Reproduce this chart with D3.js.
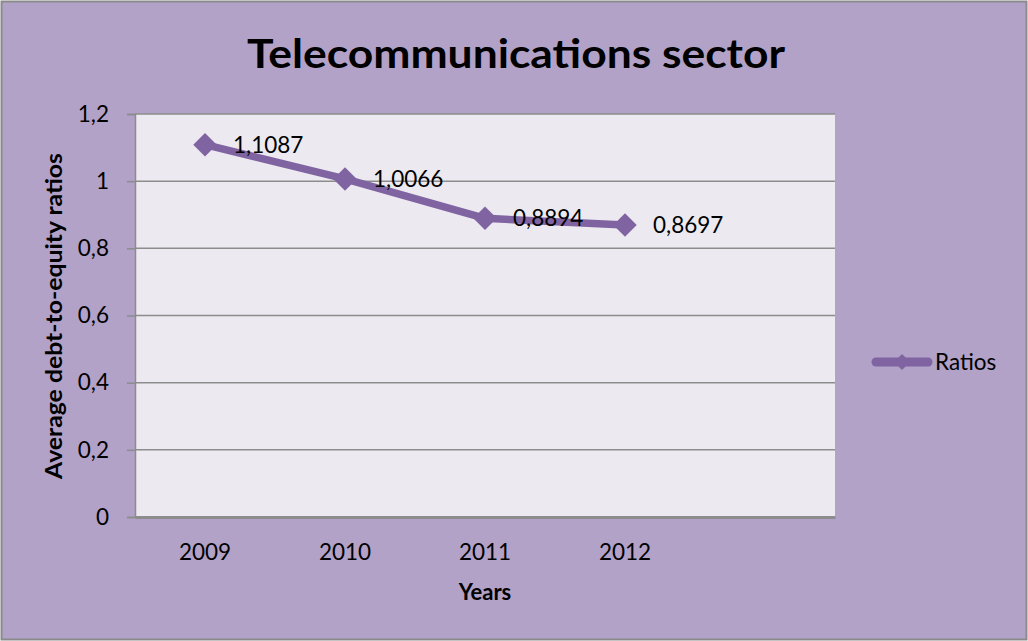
<!DOCTYPE html>
<html>
<head>
<meta charset="utf-8">
<script src="https://cdn.jsdelivr.net/npm/d3@7"></script>
<style>
  html, body { margin: 0; padding: 0; background: #fff; }
  svg { display: block; }
  text { font-family: Lato, "Open Sans", sans-serif; fill: #000; }
</style>
</head>
<body>
<svg id="chart" width="1028" height="641"></svg>
<script>
// Average debt-to-equity ratios, telecommunications sector
const years = ["2009", "2010", "2011", "2012"];
const ratios = [1.1087, 1.0066, 0.8894, 0.8697];
const ratioLabels = ["1,1087", "1,0066", "0,8894", "0,8697"];
const yTicks = [0, 0.2, 0.4, 0.6, 0.8, 1, 1.2];
const seriesName = "Ratios";

const W = 1028, H = 641;
const plot = { left: 135, right: 835, top: 114, bottom: 517 };
const lineColor = "#8064a2";
const fontSize = 22.5;

const svg = d3.select("#chart");

// outer chart area with border
svg.append("rect")
  .attr("x", 1.5).attr("y", 1.5)
  .attr("width", W - 3).attr("height", H - 3)
  .attr("fill", "#b2a2c8")
  .attr("stroke", "#8a8a8a").attr("stroke-width", 2);

// category slots: the axis reserves one empty slot after the last year
const slots = years.concat([""]);
const x = d3.scaleBand().domain(slots.map((d, i) => i)).range([plot.left, plot.right]);
const y = d3.scaleLinear().domain([0, 1.2]).range([plot.bottom, plot.top]);

// plot area
svg.append("rect")
  .attr("x", plot.left).attr("y", plot.top)
  .attr("width", plot.right - plot.left).attr("height", plot.bottom - plot.top)
  .attr("fill", "#eceaf0");

// y axis with gridlines
const yAxis = svg.append("g")
  .attr("transform", `translate(${plot.left},0)`)
  .call(d3.axisLeft(y).tickValues(yTicks).tickSize(8).tickPadding(18)
    .tickFormat(d => d3.format("~g")(d).replace(".", ",")));
yAxis.select(".domain").attr("stroke", "#8c8c8c").attr("stroke-width", 1.5);
yAxis.selectAll(".tick line").attr("stroke", "#8c8c8c").attr("stroke-width", 1.5);
yAxis.selectAll(".tick text").attr("font-size", fontSize).attr("font-family", "Lato, sans-serif").attr("fill", "#000");

svg.append("g")
  .selectAll("line")
  .data(yTicks.filter(d => d > 0))
  .join("line")
  .attr("x1", plot.left).attr("x2", plot.right)
  .attr("y1", d => y(d)).attr("y2", d => y(d))
  .attr("stroke", "#8c8c8c").attr("stroke-width", 1.5);

// x axis
const xAxis = svg.append("g")
  .attr("transform", `translate(0,${plot.bottom})`)
  .call(d3.axisBottom(x).tickSize(0).tickPadding(27).tickFormat(i => slots[i]));
xAxis.select(".domain").attr("stroke", "#8c8c8c").attr("stroke-width", 3);
xAxis.selectAll(".tick text").attr("font-size", fontSize).attr("font-family", "Lato, sans-serif").attr("fill", "#000");

// titles
svg.append("text")
  .attr("x", 516).attr("y", 68)
  .attr("text-anchor", "middle")
  .attr("font-size", 41).attr("font-weight", "bold")
  .attr("textLength", 538).attr("lengthAdjust", "spacingAndGlyphs")
  .text("Telecommunications sector");

svg.append("text")
  .attr("x", 485).attr("y", 600)
  .attr("text-anchor", "middle")
  .attr("font-size", 22).attr("font-weight", "bold")
  .text("Years");

svg.append("text")
  .attr("transform", `translate(62,316) rotate(-90)`)
  .attr("text-anchor", "middle")
  .attr("font-size", 22).attr("font-weight", "bold")
  .attr("textLength", 326).attr("lengthAdjust", "spacingAndGlyphs")
  .text("Average debt-to-equity ratios");

// series line
const cx = i => x(i) + x.bandwidth() / 2;
const line = d3.line().x((d, i) => cx(i)).y(d => y(d));
svg.append("path")
  .datum(ratios)
  .attr("d", line)
  .attr("fill", "none")
  .attr("stroke", lineColor).attr("stroke-width", 7.5)
  .attr("stroke-linejoin", "round");

// diamond markers
svg.append("g")
  .selectAll("path")
  .data(ratios)
  .join("path")
  .attr("transform", (d, i) => `translate(${cx(i)},${y(d)}) rotate(45)`)
  .attr("d", d3.symbol().type(d3.symbolSquare).size(275))
  .attr("fill", lineColor);

// value labels
svg.append("g")
  .selectAll("text")
  .data(ratios)
  .join("text")
  .attr("x", (d, i) => cx(i) + 28)
  .attr("y", d => y(d) + 8)
  .attr("font-size", fontSize)
  .text((d, i) => ratioLabels[i]);

// legend
const lg = svg.append("g").attr("transform", "translate(0,362)");
lg.append("line")
  .attr("x1", 876).attr("x2", 928)
  .attr("stroke", lineColor).attr("stroke-width", 9).attr("stroke-linecap", "round");
lg.append("path")
  .attr("transform", "translate(902,0) rotate(45)")
  .attr("d", d3.symbol().type(d3.symbolSquare).size(130))
  .attr("fill", lineColor);
lg.append("text")
  .attr("x", 935).attr("y", 8)
  .attr("font-size", fontSize)
  .text(seriesName);
</script>
</body>
</html>
